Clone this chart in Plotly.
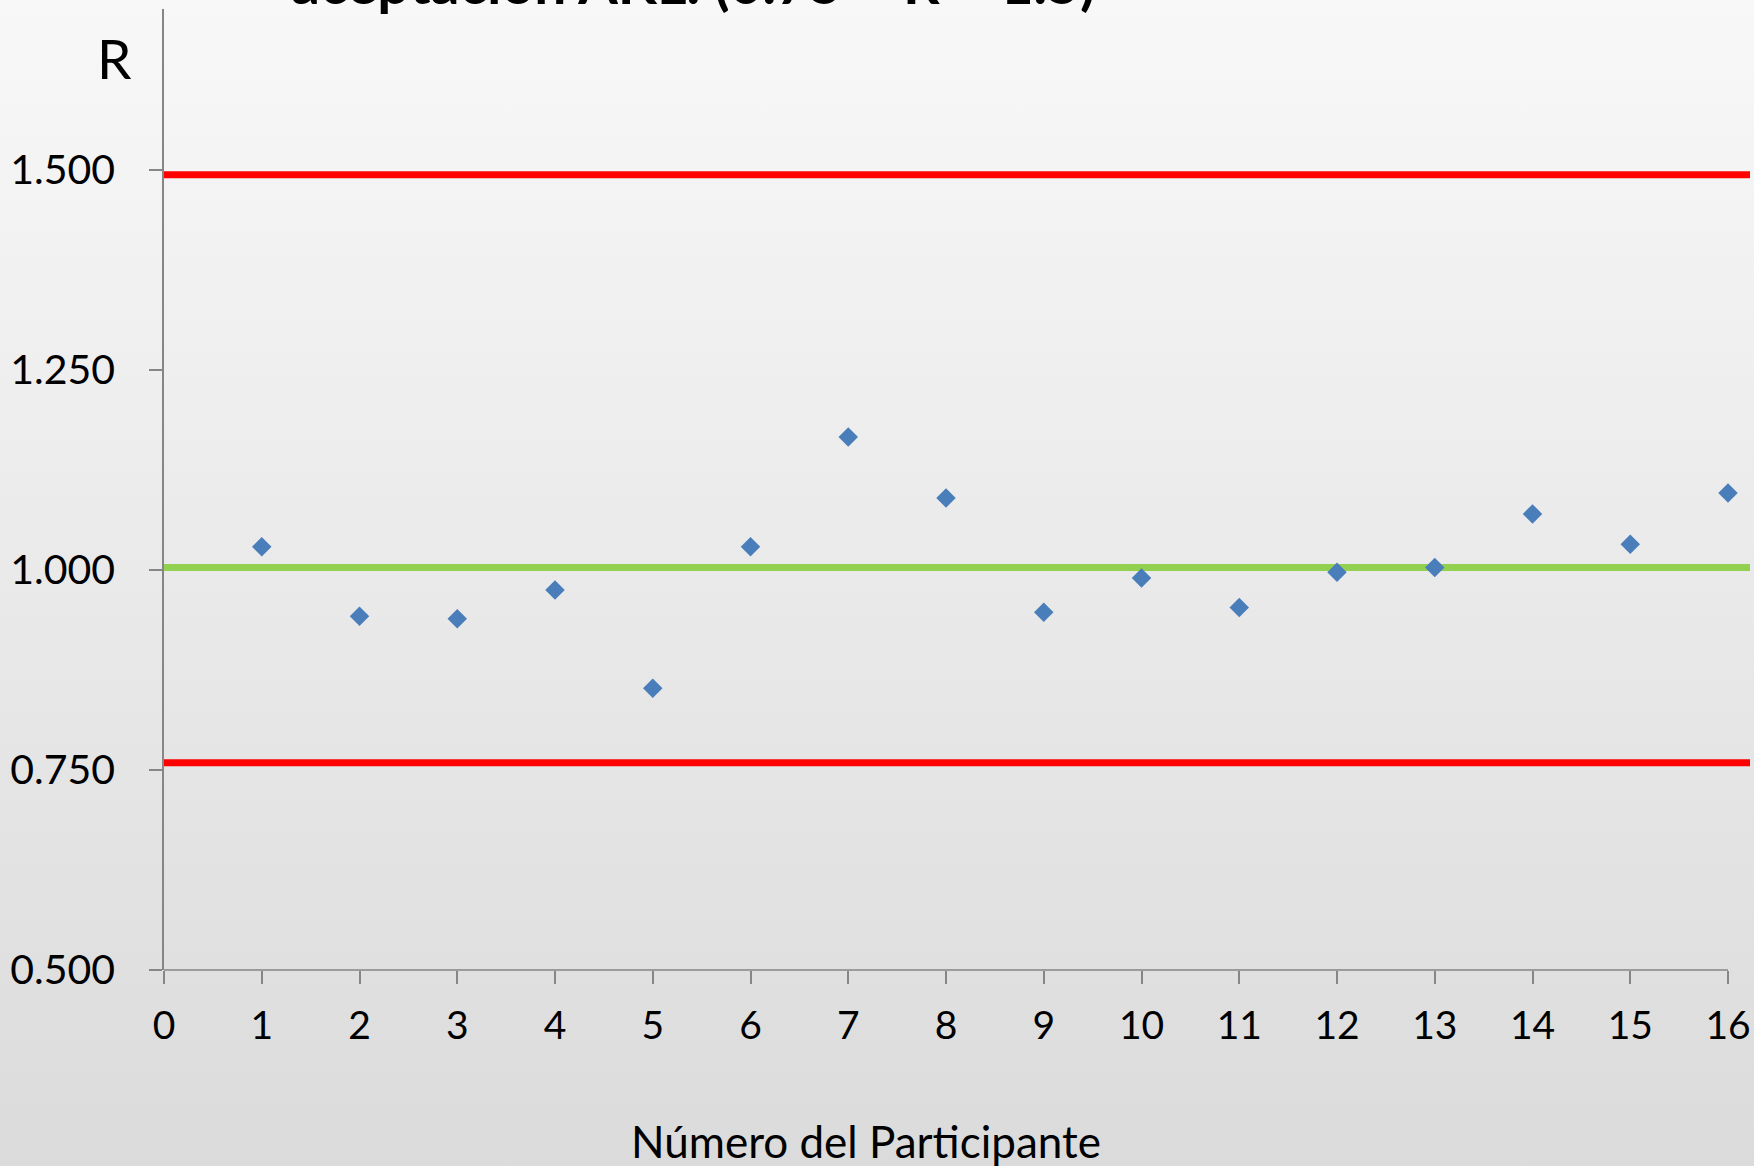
import base64
import plotly.graph_objects as go

# Participant results
participants = list(range(1, 17))
r_values = [1.029, 0.942, 0.939, 0.975, 0.852, 1.029, 1.166, 1.090,
            0.947, 0.990, 0.953, 0.997, 1.003, 1.070, 1.032, 1.096]

# Reference levels (acceptance limits and target)
upper_limit = 1.494
target = 1.003
lower_limit = 0.759

x_ticks = list(range(0, 17))
y_ticks = [0.5, 0.75, 1.0, 1.25, 1.5]

W, H = 1754, 1166
ML, MR, MT, MB = 164, 4, 9, 196
PW, PH = W - ML - MR, H - MT - MB
X_MAX = 16 * PW / 1564.0  # x axis drawn up to 16, plot area slightly wider
Y_MIN, Y_MAX = 0.5, 1.701

FONT = "Lato, 'Open Sans', sans-serif"
AXIS_GREY = "#868686"

fig = go.Figure()

# horizontal reference lines spanning the plot area
line_x = [0, X_MAX]
fig.add_trace(go.Scatter(x=line_x, y=[upper_limit] * 2, mode="lines",
                         line=dict(color="#ff0000", width=7), hoverinfo="skip"))
fig.add_trace(go.Scatter(x=line_x, y=[lower_limit] * 2, mode="lines",
                         line=dict(color="#ff0000", width=7), hoverinfo="skip"))
fig.add_trace(go.Scatter(x=line_x, y=[target] * 2, mode="lines",
                         line=dict(color="#92d050", width=7), hoverinfo="skip"))

# participant values
fig.add_trace(go.Scatter(x=participants, y=r_values, mode="markers",
                         marker=dict(symbol="diamond", size=15, color="#4a7ebb",
                                     line=dict(width=0))))

# vertical grey gradient behind the whole chart
grad_svg = (
    "<svg xmlns='http://www.w3.org/2000/svg' width='100' height='100' "
    "preserveAspectRatio='none'><defs><linearGradient id='g' x1='0' y1='0' "
    "x2='0' y2='1'><stop offset='0' stop-color='#f8f8f8'/>"
    "<stop offset='1' stop-color='#dbdbdb'/></linearGradient></defs>"
    "<rect width='100' height='100' fill='url(#g)'/></svg>"
)
grad_uri = "data:image/svg+xml;base64," + base64.b64encode(grad_svg.encode()).decode()

fig.add_layout_image(dict(
    source=grad_uri, xref="paper", yref="paper",
    x=-ML / PW, y=1 + MT / PH, sizex=W / PW, sizey=H / PH,
    xanchor="left", yanchor="top", sizing="stretch", layer="below",
))

# x axis baseline from 0 to 16
fig.add_shape(type="line", xref="paper", yref="paper",
              x0=0, x1=16 / X_MAX, y0=0, y1=0,
              line=dict(color=AXIS_GREY, width=1.5))

fig.update_layout(
    width=W, height=H,
    margin=dict(l=ML, r=MR, t=MT, b=MB),
    paper_bgcolor="#e9e9e9",
    plot_bgcolor="rgba(0,0,0,0)",
    showlegend=False,
    font=dict(family=FONT, color="#000000"),
    xaxis=dict(
        range=[0, X_MAX], tickvals=x_ticks, ticktext=[str(v) for v in x_ticks],
        showgrid=False, zeroline=False, showline=False,
        ticks="outside", ticklen=13, tickwidth=1.5, tickcolor=AXIS_GREY,
        tickfont=dict(size=39, family=FONT), ticklabelstandoff=8,
    ),
    yaxis=dict(
        range=[Y_MIN, Y_MAX], tickvals=y_ticks, tickformat=".3f",
        showgrid=False, zeroline=False,
        showline=True, linecolor=AXIS_GREY, linewidth=1.5,
        ticks="outside", ticklen=13, tickwidth=1.5, tickcolor=AXIS_GREY,
        tickfont=dict(size=41, family=FONT), ticklabelstandoff=26,
    ),
    annotations=[
        dict(text="<b>aceptación AKL. (0.75 < R < 1.5)</b>", xref="paper", yref="paper",
             x=(693 - ML) / PW, y=1 + (MT - 18) / PH, xanchor="center", yanchor="bottom",
             showarrow=False, font=dict(size=57, family=FONT, color="#000000")),
        dict(text="R", xref="paper", yref="paper",
             x=(114 - ML) / PW, y=1 - (58 - MT) / PH, xanchor="center", yanchor="middle",
             showarrow=False, font=dict(size=55, family=FONT)),
        dict(text="Número del Participante", xref="paper", yref="paper",
             x=(866 - ML) / PW, y=-(1141 - (H - MB)) / PH, xanchor="center", yanchor="middle",
             showarrow=False, font=dict(size=44, family=FONT)),
    ],
)

fig.write_html("out.html")
